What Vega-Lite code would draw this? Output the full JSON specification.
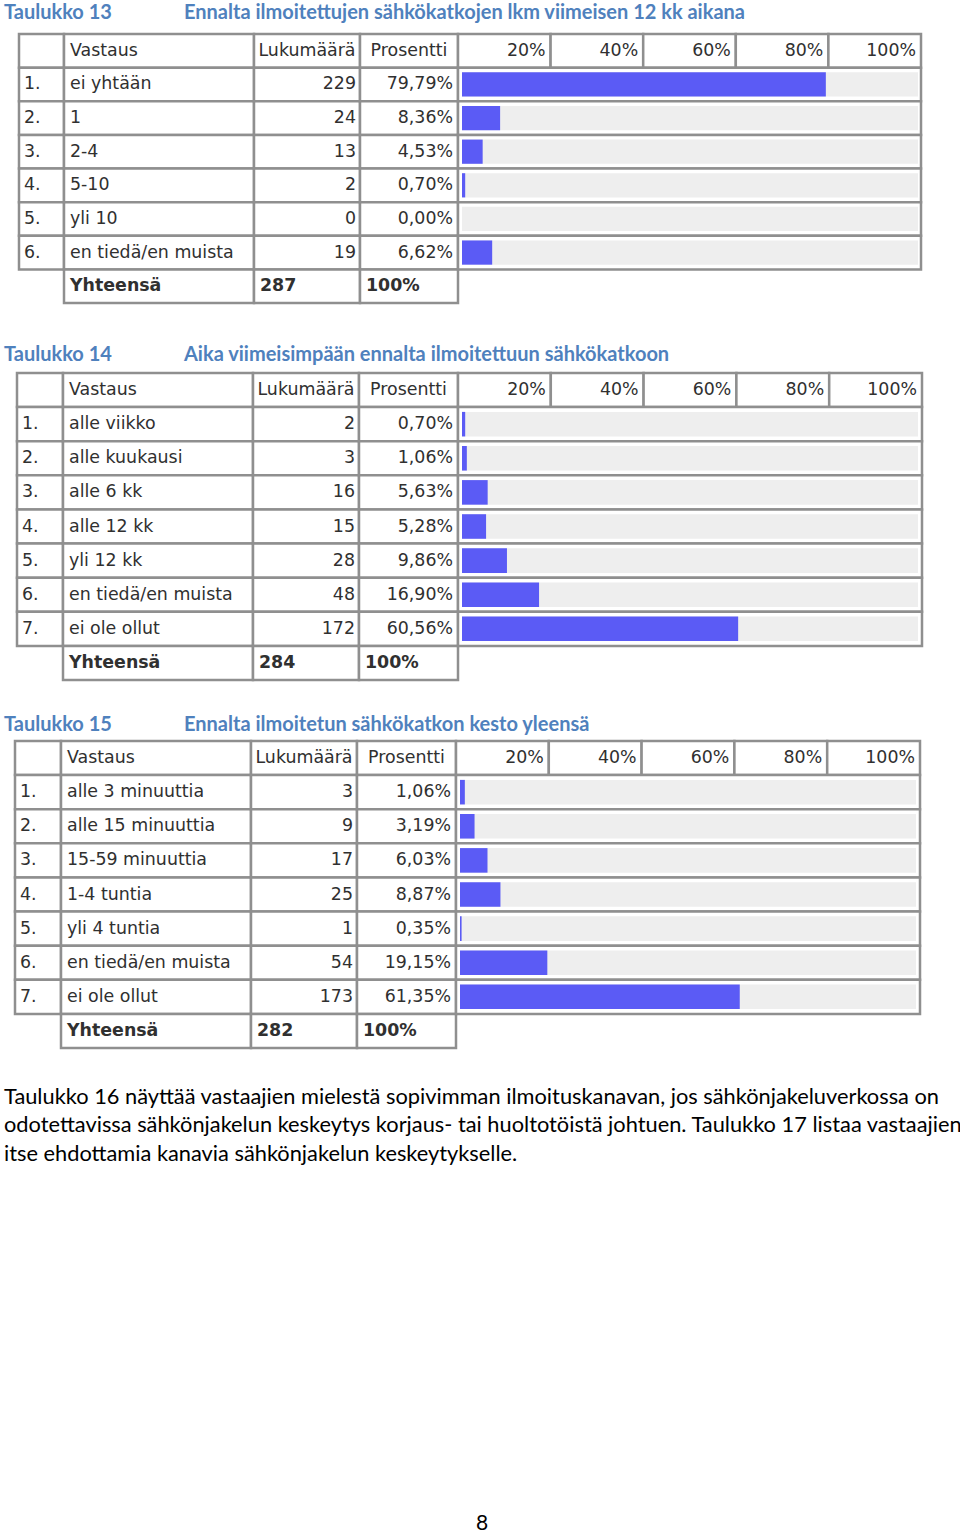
{
  "$schema": "https://vega.github.io/schema/vega-lite/v6.json",
  "padding": 0,
  "background": "white",
  "config": {
    "view": {"stroke": null},
    "text": {"font": "DejaVu Sans", "fontSize": 17.4, "fill": "#303030", "baseline": "middle"},
    "locale": {"number": {"decimal": ",", "thousands": "\u00a0", "grouping": [3], "currency": ["", "\u00a0€"]}}
  },
  "datasets": {
    "ticks": [
      {"row": "h", "lo": 0, "hi": 0.2},
      {"row": "h", "lo": 0.2, "hi": 0.4},
      {"row": "h", "lo": 0.4, "hi": 0.6},
      {"row": "h", "lo": 0.6, "hi": 0.8},
      {"row": "h", "lo": 0.8, "hi": 1}
    ],
    "t13": [
      {"row": "h", "c0": "", "c1": "Vastaus", "c2": "Lukumäärä", "c3": "Prosentti"},
      {"row": "1", "c0": "1.", "c1": "ei yhtään", "n": 229, "p": 0.7979},
      {"row": "2", "c0": "2.", "c1": "1", "n": 24, "p": 0.0836},
      {"row": "3", "c0": "3.", "c1": "2-4", "n": 13, "p": 0.0453},
      {"row": "4", "c0": "4.", "c1": "5-10", "n": 2, "p": 0.007},
      {"row": "5", "c0": "5.", "c1": "yli 10", "n": 0, "p": 0},
      {"row": "6", "c0": "6.", "c1": "en tiedä/en muista", "n": 19, "p": 0.0662},
      {"row": "t", "c1": "Yhteensä", "n": 287, "p": 1}
    ],
    "t14": [
      {"row": "h", "c0": "", "c1": "Vastaus", "c2": "Lukumäärä", "c3": "Prosentti"},
      {"row": "1", "c0": "1.", "c1": "alle viikko", "n": 2, "p": 0.007},
      {"row": "2", "c0": "2.", "c1": "alle kuukausi", "n": 3, "p": 0.0106},
      {"row": "3", "c0": "3.", "c1": "alle 6 kk", "n": 16, "p": 0.0563},
      {"row": "4", "c0": "4.", "c1": "alle 12 kk", "n": 15, "p": 0.0528},
      {"row": "5", "c0": "5.", "c1": "yli 12 kk", "n": 28, "p": 0.0986},
      {"row": "6", "c0": "6.", "c1": "en tiedä/en muista", "n": 48, "p": 0.169},
      {"row": "7", "c0": "7.", "c1": "ei ole ollut", "n": 172, "p": 0.6056},
      {"row": "t", "c1": "Yhteensä", "n": 284, "p": 1}
    ],
    "t15": [
      {"row": "h", "c0": "", "c1": "Vastaus", "c2": "Lukumäärä", "c3": "Prosentti"},
      {"row": "1", "c0": "1.", "c1": "alle 3 minuuttia", "n": 3, "p": 0.0106},
      {"row": "2", "c0": "2.", "c1": "alle 15 minuuttia", "n": 9, "p": 0.0319},
      {"row": "3", "c0": "3.", "c1": "15-59 minuuttia", "n": 17, "p": 0.0603},
      {"row": "4", "c0": "4.", "c1": "1-4 tuntia", "n": 25, "p": 0.0887},
      {"row": "5", "c0": "5.", "c1": "yli 4 tuntia", "n": 1, "p": 0.0035},
      {"row": "6", "c0": "6.", "c1": "en tiedä/en muista", "n": 54, "p": 0.1915},
      {"row": "7", "c0": "7.", "c1": "ei ole ollut", "n": 173, "p": 0.6135},
      {"row": "t", "c1": "Yhteensä", "n": 282, "p": 1}
    ]
  },
  "vconcat": [
    {
      "hconcat": [
        {"width": 180, "height": 31.75, "data": {"values": [{"t": "Taulukko 13"}]}, "mark": {"type": "text", "font": "Lato", "fontWeight": "bold", "fontSize": 20, "fill": "#4f81bd", "align": "left", "dx": 4, "dy": -2.9}, "encoding": {"x": {"datum": 0, "type": "quantitative", "scale": {"domain": [0, 1]}, "axis": null}, "text": {"field": "t"}}},
        {"width": 780, "height": 31.75, "data": {"values": [{"t": "Ennalta ilmoitettujen sähkökatkojen lkm viimeisen 12 kk aikana"}]}, "mark": {"type": "text", "font": "Lato", "fontWeight": "bold", "fontSize": 20, "fill": "#4f81bd", "align": "left", "dx": 4, "dy": -2.9}, "encoding": {"x": {"datum": 0, "type": "quantitative", "scale": {"domain": [0, 1]}, "axis": null}, "text": {"field": "t"}}}
      ],
      "spacing": 0, "bounds": "flush"
    },
    {
      "hconcat": [
        {"width": 19, "height": 269, "data": {"values": [{"a": ""}]}, "mark": "text", "encoding": {"text": {"field": "a"}}},
        {
          "width": 45, "height": 269, "data": {"name": "t13"},
          "encoding": {"y": {"field": "row", "type": "nominal", "scale": {"domain": ["h", "1", "2", "3", "4", "5", "6", "t"], "paddingInner": 0, "paddingOuter": 0}, "axis": null}},
          "layer": [
            {"transform": [{"filter": "datum.row != 't'"}], "mark": {"type": "rect", "fill": "#ffffff", "stroke": "#8f8f8f", "strokeWidth": 2.5}},
            {"transform": [{"filter": "datum.row != 't'"}], "mark": {"type": "text", "align": "left", "dx": 5}, "encoding": {"x": {"datum": 0, "type": "quantitative", "scale": {"domain": [0, 1]}, "axis": null}, "text": {"field": "c0"}}}
          ]
        },
        {
          "width": 190, "height": 269, "data": {"name": "t13"},
          "encoding": {"y": {"field": "row", "type": "nominal", "scale": {"domain": ["h", "1", "2", "3", "4", "5", "6", "t"], "paddingInner": 0, "paddingOuter": 0}, "axis": null}},
          "layer": [
            {"mark": {"type": "rect", "fill": "#ffffff", "stroke": "#8f8f8f", "strokeWidth": 2.5}},
            {"transform": [{"filter": "datum.row != 't'"}], "mark": {"type": "text", "align": "left", "dx": 6}, "encoding": {"x": {"datum": 0, "type": "quantitative", "scale": {"domain": [0, 1]}, "axis": null}, "text": {"field": "c1"}}},
            {"transform": [{"filter": "datum.row == 't'"}], "mark": {"type": "text", "align": "left", "dx": 6, "fontWeight": "bold"}, "encoding": {"x": {"datum": 0, "type": "quantitative", "scale": {"domain": [0, 1]}, "axis": null}, "text": {"field": "c1"}}}
          ]
        },
        {
          "width": 106, "height": 269, "data": {"name": "t13"},
          "encoding": {"y": {"field": "row", "type": "nominal", "scale": {"domain": ["h", "1", "2", "3", "4", "5", "6", "t"], "paddingInner": 0, "paddingOuter": 0}, "axis": null}},
          "layer": [
            {"mark": {"type": "rect", "fill": "#ffffff", "stroke": "#8f8f8f", "strokeWidth": 2.5}},
            {"transform": [{"filter": "datum.row == 'h'"}], "mark": {"type": "text", "align": "center"}, "encoding": {"x": {"datum": 0.5, "type": "quantitative", "scale": {"domain": [0, 1]}, "axis": null}, "text": {"field": "c2"}}},
            {"transform": [{"filter": "datum.row != 'h' && datum.row != 't'"}], "mark": {"type": "text", "align": "right", "dx": -4}, "encoding": {"x": {"datum": 1, "type": "quantitative", "scale": {"domain": [0, 1]}, "axis": null}, "text": {"field": "n", "type": "quantitative", "format": "d"}}},
            {"transform": [{"filter": "datum.row == 't'"}], "mark": {"type": "text", "align": "left", "dx": 6, "fontWeight": "bold"}, "encoding": {"x": {"datum": 0, "type": "quantitative", "scale": {"domain": [0, 1]}, "axis": null}, "text": {"field": "n", "type": "quantitative", "format": "d"}}}
          ]
        },
        {
          "width": 98, "height": 269, "data": {"name": "t13"},
          "encoding": {"y": {"field": "row", "type": "nominal", "scale": {"domain": ["h", "1", "2", "3", "4", "5", "6", "t"], "paddingInner": 0, "paddingOuter": 0}, "axis": null}},
          "layer": [
            {"mark": {"type": "rect", "fill": "#ffffff", "stroke": "#8f8f8f", "strokeWidth": 2.5}},
            {"transform": [{"filter": "datum.row == 'h'"}], "mark": {"type": "text", "align": "center"}, "encoding": {"x": {"datum": 0.5, "type": "quantitative", "scale": {"domain": [0, 1]}, "axis": null}, "text": {"field": "c3"}}},
            {"transform": [{"filter": "datum.row != 'h' && datum.row != 't'"}], "mark": {"type": "text", "align": "right", "dx": -5}, "encoding": {"x": {"datum": 1, "type": "quantitative", "scale": {"domain": [0, 1]}, "axis": null}, "text": {"field": "p", "type": "quantitative", "format": ".2%"}}},
            {"transform": [{"filter": "datum.row == 't'"}], "mark": {"type": "text", "align": "left", "dx": 6, "fontWeight": "bold"}, "encoding": {"x": {"datum": 0, "type": "quantitative", "scale": {"domain": [0, 1]}, "axis": null}, "text": {"field": "p", "type": "quantitative", "format": ".0%"}}}
          ]
        },
        {
          "width": 463, "height": 269,
          "encoding": {"y": {"field": "row", "type": "nominal", "scale": {"domain": ["h", "1", "2", "3", "4", "5", "6", "t"], "paddingInner": 0, "paddingOuter": 0}, "axis": null}},
          "layer": [
            {"data": {"name": "ticks"}, "mark": {"type": "rect", "fill": "#ffffff", "stroke": "#8f8f8f", "strokeWidth": 2.5}, "encoding": {"x": {"field": "lo", "type": "quantitative", "scale": {"domain": [0, 1]}, "axis": null}, "x2": {"field": "hi"}}},
            {"data": {"name": "ticks"}, "mark": {"type": "text", "align": "right", "dx": -5}, "encoding": {"x": {"field": "hi", "type": "quantitative", "scale": {"domain": [0, 1]}, "axis": null}, "text": {"field": "hi", "type": "quantitative", "format": ".0%"}}},
            {"data": {"name": "t13"}, "transform": [{"filter": "datum.row != 'h' && datum.row != 't'"}], "mark": {"type": "rect", "fill": "#ffffff", "stroke": "#8f8f8f", "strokeWidth": 2.5}},
            {"data": {"name": "t13"}, "transform": [{"filter": "datum.row != 'h' && datum.row != 't'"}], "mark": {"type": "bar", "fill": "#eeeeee", "height": {"band": 0.72}}, "encoding": {"x": {"datum": 0, "type": "quantitative", "scale": {"domain": [0, 1], "range": [4, 460]}, "axis": null}, "x2": {"datum": 1}}},
            {"data": {"name": "t13"}, "transform": [{"filter": "datum.row != 'h' && datum.row != 't'"}], "mark": {"type": "bar", "fill": "#5b5bf5", "height": {"band": 0.72}}, "encoding": {"x": {"field": "p", "type": "quantitative", "scale": {"domain": [0, 1], "range": [4, 460]}, "axis": null}}}
          ],
          "resolve": {"scale": {"x": "independent"}}
        }
      ],
      "spacing": 0, "bounds": "flush"
    },
    {
      "hconcat": [
        {"width": 180, "height": 65.5, "data": {"values": [{"t": "Taulukko 14"}]}, "mark": {"type": "text", "font": "Lato", "fontWeight": "bold", "fontSize": 20, "fill": "#4f81bd", "align": "left", "dx": 4, "dy": 17}, "encoding": {"x": {"datum": 0, "type": "quantitative", "scale": {"domain": [0, 1]}, "axis": null}, "text": {"field": "t"}}},
        {"width": 780, "height": 65.5, "data": {"values": [{"t": "Aika viimeisimpään ennalta ilmoitettuun sähkökatkoon"}]}, "mark": {"type": "text", "font": "Lato", "fontWeight": "bold", "fontSize": 20, "fill": "#4f81bd", "align": "left", "dx": 4, "dy": 17}, "encoding": {"x": {"datum": 0, "type": "quantitative", "scale": {"domain": [0, 1]}, "axis": null}, "text": {"field": "t"}}}
      ],
      "spacing": 0, "bounds": "flush"
    },
    {
      "hconcat": [
        {"width": 17, "height": 307, "data": {"values": [{"a": ""}]}, "mark": "text", "encoding": {"text": {"field": "a"}}},
        {
          "width": 46, "height": 307, "data": {"name": "t14"},
          "encoding": {"y": {"field": "row", "type": "nominal", "scale": {"domain": ["h", "1", "2", "3", "4", "5", "6", "7", "t"], "paddingInner": 0, "paddingOuter": 0}, "axis": null}},
          "layer": [
            {"transform": [{"filter": "datum.row != 't'"}], "mark": {"type": "rect", "fill": "#ffffff", "stroke": "#8f8f8f", "strokeWidth": 2.5}},
            {"transform": [{"filter": "datum.row != 't'"}], "mark": {"type": "text", "align": "left", "dx": 5}, "encoding": {"x": {"datum": 0, "type": "quantitative", "scale": {"domain": [0, 1]}, "axis": null}, "text": {"field": "c0"}}}
          ]
        },
        {
          "width": 190, "height": 307, "data": {"name": "t14"},
          "encoding": {"y": {"field": "row", "type": "nominal", "scale": {"domain": ["h", "1", "2", "3", "4", "5", "6", "7", "t"], "paddingInner": 0, "paddingOuter": 0}, "axis": null}},
          "layer": [
            {"mark": {"type": "rect", "fill": "#ffffff", "stroke": "#8f8f8f", "strokeWidth": 2.5}},
            {"transform": [{"filter": "datum.row != 't'"}], "mark": {"type": "text", "align": "left", "dx": 6}, "encoding": {"x": {"datum": 0, "type": "quantitative", "scale": {"domain": [0, 1]}, "axis": null}, "text": {"field": "c1"}}},
            {"transform": [{"filter": "datum.row == 't'"}], "mark": {"type": "text", "align": "left", "dx": 6, "fontWeight": "bold"}, "encoding": {"x": {"datum": 0, "type": "quantitative", "scale": {"domain": [0, 1]}, "axis": null}, "text": {"field": "c1"}}}
          ]
        },
        {
          "width": 106, "height": 307, "data": {"name": "t14"},
          "encoding": {"y": {"field": "row", "type": "nominal", "scale": {"domain": ["h", "1", "2", "3", "4", "5", "6", "7", "t"], "paddingInner": 0, "paddingOuter": 0}, "axis": null}},
          "layer": [
            {"mark": {"type": "rect", "fill": "#ffffff", "stroke": "#8f8f8f", "strokeWidth": 2.5}},
            {"transform": [{"filter": "datum.row == 'h'"}], "mark": {"type": "text", "align": "center"}, "encoding": {"x": {"datum": 0.5, "type": "quantitative", "scale": {"domain": [0, 1]}, "axis": null}, "text": {"field": "c2"}}},
            {"transform": [{"filter": "datum.row != 'h' && datum.row != 't'"}], "mark": {"type": "text", "align": "right", "dx": -4}, "encoding": {"x": {"datum": 1, "type": "quantitative", "scale": {"domain": [0, 1]}, "axis": null}, "text": {"field": "n", "type": "quantitative", "format": "d"}}},
            {"transform": [{"filter": "datum.row == 't'"}], "mark": {"type": "text", "align": "left", "dx": 6, "fontWeight": "bold"}, "encoding": {"x": {"datum": 0, "type": "quantitative", "scale": {"domain": [0, 1]}, "axis": null}, "text": {"field": "n", "type": "quantitative", "format": "d"}}}
          ]
        },
        {
          "width": 99, "height": 307, "data": {"name": "t14"},
          "encoding": {"y": {"field": "row", "type": "nominal", "scale": {"domain": ["h", "1", "2", "3", "4", "5", "6", "7", "t"], "paddingInner": 0, "paddingOuter": 0}, "axis": null}},
          "layer": [
            {"mark": {"type": "rect", "fill": "#ffffff", "stroke": "#8f8f8f", "strokeWidth": 2.5}},
            {"transform": [{"filter": "datum.row == 'h'"}], "mark": {"type": "text", "align": "center"}, "encoding": {"x": {"datum": 0.5, "type": "quantitative", "scale": {"domain": [0, 1]}, "axis": null}, "text": {"field": "c3"}}},
            {"transform": [{"filter": "datum.row != 'h' && datum.row != 't'"}], "mark": {"type": "text", "align": "right", "dx": -5}, "encoding": {"x": {"datum": 1, "type": "quantitative", "scale": {"domain": [0, 1]}, "axis": null}, "text": {"field": "p", "type": "quantitative", "format": ".2%"}}},
            {"transform": [{"filter": "datum.row == 't'"}], "mark": {"type": "text", "align": "left", "dx": 6, "fontWeight": "bold"}, "encoding": {"x": {"datum": 0, "type": "quantitative", "scale": {"domain": [0, 1]}, "axis": null}, "text": {"field": "p", "type": "quantitative", "format": ".0%"}}}
          ]
        },
        {
          "width": 464, "height": 307,
          "encoding": {"y": {"field": "row", "type": "nominal", "scale": {"domain": ["h", "1", "2", "3", "4", "5", "6", "7", "t"], "paddingInner": 0, "paddingOuter": 0}, "axis": null}},
          "layer": [
            {"data": {"name": "ticks"}, "mark": {"type": "rect", "fill": "#ffffff", "stroke": "#8f8f8f", "strokeWidth": 2.5}, "encoding": {"x": {"field": "lo", "type": "quantitative", "scale": {"domain": [0, 1]}, "axis": null}, "x2": {"field": "hi"}}},
            {"data": {"name": "ticks"}, "mark": {"type": "text", "align": "right", "dx": -5}, "encoding": {"x": {"field": "hi", "type": "quantitative", "scale": {"domain": [0, 1]}, "axis": null}, "text": {"field": "hi", "type": "quantitative", "format": ".0%"}}},
            {"data": {"name": "t14"}, "transform": [{"filter": "datum.row != 'h' && datum.row != 't'"}], "mark": {"type": "rect", "fill": "#ffffff", "stroke": "#8f8f8f", "strokeWidth": 2.5}},
            {"data": {"name": "t14"}, "transform": [{"filter": "datum.row != 'h' && datum.row != 't'"}], "mark": {"type": "bar", "fill": "#eeeeee", "height": {"band": 0.72}}, "encoding": {"x": {"datum": 0, "type": "quantitative", "scale": {"domain": [0, 1], "range": [4, 460]}, "axis": null}, "x2": {"datum": 1}}},
            {"data": {"name": "t14"}, "transform": [{"filter": "datum.row != 'h' && datum.row != 't'"}], "mark": {"type": "bar", "fill": "#5b5bf5", "height": {"band": 0.72}}, "encoding": {"x": {"field": "p", "type": "quantitative", "scale": {"domain": [0, 1], "range": [4, 460]}, "axis": null}}}
          ],
          "resolve": {"scale": {"x": "independent"}}
        }
      ],
      "spacing": 0, "bounds": "flush"
    },
    {
      "hconcat": [
        {"width": 180, "height": 56.5, "data": {"values": [{"t": "Taulukko 15"}]}, "mark": {"type": "text", "font": "Lato", "fontWeight": "bold", "fontSize": 20, "fill": "#4f81bd", "align": "left", "dx": 4, "dy": 14.5}, "encoding": {"x": {"datum": 0, "type": "quantitative", "scale": {"domain": [0, 1]}, "axis": null}, "text": {"field": "t"}}},
        {"width": 780, "height": 56.5, "data": {"values": [{"t": "Ennalta ilmoitetun sähkökatkon kesto yleensä"}]}, "mark": {"type": "text", "font": "Lato", "fontWeight": "bold", "fontSize": 20, "fill": "#4f81bd", "align": "left", "dx": 4, "dy": 14.5}, "encoding": {"x": {"datum": 0, "type": "quantitative", "scale": {"domain": [0, 1]}, "axis": null}, "text": {"field": "t"}}}
      ],
      "spacing": 0, "bounds": "flush"
    },
    {
      "hconcat": [
        {"width": 15, "height": 307, "data": {"values": [{"a": ""}]}, "mark": "text", "encoding": {"text": {"field": "a"}}},
        {
          "width": 46, "height": 307, "data": {"name": "t15"},
          "encoding": {"y": {"field": "row", "type": "nominal", "scale": {"domain": ["h", "1", "2", "3", "4", "5", "6", "7", "t"], "paddingInner": 0, "paddingOuter": 0}, "axis": null}},
          "layer": [
            {"transform": [{"filter": "datum.row != 't'"}], "mark": {"type": "rect", "fill": "#ffffff", "stroke": "#8f8f8f", "strokeWidth": 2.5}},
            {"transform": [{"filter": "datum.row != 't'"}], "mark": {"type": "text", "align": "left", "dx": 5}, "encoding": {"x": {"datum": 0, "type": "quantitative", "scale": {"domain": [0, 1]}, "axis": null}, "text": {"field": "c0"}}}
          ]
        },
        {
          "width": 190, "height": 307, "data": {"name": "t15"},
          "encoding": {"y": {"field": "row", "type": "nominal", "scale": {"domain": ["h", "1", "2", "3", "4", "5", "6", "7", "t"], "paddingInner": 0, "paddingOuter": 0}, "axis": null}},
          "layer": [
            {"mark": {"type": "rect", "fill": "#ffffff", "stroke": "#8f8f8f", "strokeWidth": 2.5}},
            {"transform": [{"filter": "datum.row != 't'"}], "mark": {"type": "text", "align": "left", "dx": 6}, "encoding": {"x": {"datum": 0, "type": "quantitative", "scale": {"domain": [0, 1]}, "axis": null}, "text": {"field": "c1"}}},
            {"transform": [{"filter": "datum.row == 't'"}], "mark": {"type": "text", "align": "left", "dx": 6, "fontWeight": "bold"}, "encoding": {"x": {"datum": 0, "type": "quantitative", "scale": {"domain": [0, 1]}, "axis": null}, "text": {"field": "c1"}}}
          ]
        },
        {
          "width": 106, "height": 307, "data": {"name": "t15"},
          "encoding": {"y": {"field": "row", "type": "nominal", "scale": {"domain": ["h", "1", "2", "3", "4", "5", "6", "7", "t"], "paddingInner": 0, "paddingOuter": 0}, "axis": null}},
          "layer": [
            {"mark": {"type": "rect", "fill": "#ffffff", "stroke": "#8f8f8f", "strokeWidth": 2.5}},
            {"transform": [{"filter": "datum.row == 'h'"}], "mark": {"type": "text", "align": "center"}, "encoding": {"x": {"datum": 0.5, "type": "quantitative", "scale": {"domain": [0, 1]}, "axis": null}, "text": {"field": "c2"}}},
            {"transform": [{"filter": "datum.row != 'h' && datum.row != 't'"}], "mark": {"type": "text", "align": "right", "dx": -4}, "encoding": {"x": {"datum": 1, "type": "quantitative", "scale": {"domain": [0, 1]}, "axis": null}, "text": {"field": "n", "type": "quantitative", "format": "d"}}},
            {"transform": [{"filter": "datum.row == 't'"}], "mark": {"type": "text", "align": "left", "dx": 6, "fontWeight": "bold"}, "encoding": {"x": {"datum": 0, "type": "quantitative", "scale": {"domain": [0, 1]}, "axis": null}, "text": {"field": "n", "type": "quantitative", "format": "d"}}}
          ]
        },
        {
          "width": 99, "height": 307, "data": {"name": "t15"},
          "encoding": {"y": {"field": "row", "type": "nominal", "scale": {"domain": ["h", "1", "2", "3", "4", "5", "6", "7", "t"], "paddingInner": 0, "paddingOuter": 0}, "axis": null}},
          "layer": [
            {"mark": {"type": "rect", "fill": "#ffffff", "stroke": "#8f8f8f", "strokeWidth": 2.5}},
            {"transform": [{"filter": "datum.row == 'h'"}], "mark": {"type": "text", "align": "center"}, "encoding": {"x": {"datum": 0.5, "type": "quantitative", "scale": {"domain": [0, 1]}, "axis": null}, "text": {"field": "c3"}}},
            {"transform": [{"filter": "datum.row != 'h' && datum.row != 't'"}], "mark": {"type": "text", "align": "right", "dx": -5}, "encoding": {"x": {"datum": 1, "type": "quantitative", "scale": {"domain": [0, 1]}, "axis": null}, "text": {"field": "p", "type": "quantitative", "format": ".2%"}}},
            {"transform": [{"filter": "datum.row == 't'"}], "mark": {"type": "text", "align": "left", "dx": 6, "fontWeight": "bold"}, "encoding": {"x": {"datum": 0, "type": "quantitative", "scale": {"domain": [0, 1]}, "axis": null}, "text": {"field": "p", "type": "quantitative", "format": ".0%"}}}
          ]
        },
        {
          "width": 464, "height": 307,
          "encoding": {"y": {"field": "row", "type": "nominal", "scale": {"domain": ["h", "1", "2", "3", "4", "5", "6", "7", "t"], "paddingInner": 0, "paddingOuter": 0}, "axis": null}},
          "layer": [
            {"data": {"name": "ticks"}, "mark": {"type": "rect", "fill": "#ffffff", "stroke": "#8f8f8f", "strokeWidth": 2.5}, "encoding": {"x": {"field": "lo", "type": "quantitative", "scale": {"domain": [0, 1]}, "axis": null}, "x2": {"field": "hi"}}},
            {"data": {"name": "ticks"}, "mark": {"type": "text", "align": "right", "dx": -5}, "encoding": {"x": {"field": "hi", "type": "quantitative", "scale": {"domain": [0, 1]}, "axis": null}, "text": {"field": "hi", "type": "quantitative", "format": ".0%"}}},
            {"data": {"name": "t15"}, "transform": [{"filter": "datum.row != 'h' && datum.row != 't'"}], "mark": {"type": "rect", "fill": "#ffffff", "stroke": "#8f8f8f", "strokeWidth": 2.5}},
            {"data": {"name": "t15"}, "transform": [{"filter": "datum.row != 'h' && datum.row != 't'"}], "mark": {"type": "bar", "fill": "#eeeeee", "height": {"band": 0.72}}, "encoding": {"x": {"datum": 0, "type": "quantitative", "scale": {"domain": [0, 1], "range": [4, 460]}, "axis": null}, "x2": {"datum": 1}}},
            {"data": {"name": "t15"}, "transform": [{"filter": "datum.row != 'h' && datum.row != 't'"}], "mark": {"type": "bar", "fill": "#5b5bf5", "height": {"band": 0.72}}, "encoding": {"x": {"field": "p", "type": "quantitative", "scale": {"domain": [0, 1], "range": [4, 460]}, "axis": null}}}
          ],
          "resolve": {"scale": {"x": "independent"}}
        }
      ],
      "spacing": 0, "bounds": "flush"
    },
    {
      "width": 960, "height": 150.5,
      "data": {"values": [
        {"line": 1, "text": "Taulukko 16 näyttää vastaajien mielestä sopivimman ilmoituskanavan, jos sähkönjakeluverkossa on"},
        {"line": 2, "text": "odotettavissa sähkönjakelun keskeytys korjaus- tai huoltotöistä johtuen. Taulukko 17 listaa vastaajien"},
        {"line": 3, "text": "itse ehdottamia kanavia sähkönjakelun keskeytykselle."}
      ]},
      "mark": {"type": "text", "font": "Lato", "fontSize": 21.8, "fill": "#000000", "align": "left", "dx": 4},
      "encoding": {
        "x": {"datum": 0, "type": "quantitative", "scale": {"domain": [0, 1]}, "axis": null},
        "y": {"field": "line", "type": "quantitative", "scale": {"domain": [-0.64, 4.64], "reverse": true, "nice": false, "zero": false}, "axis": null},
        "text": {"field": "text"}
      }
    },
    {
      "width": 960, "height": 330,
      "data": {"values": [{"page": "8"}]},
      "mark": {"type": "text", "font": "Lato", "fontSize": 21, "fill": "#000000", "align": "center", "baseline": "alphabetic", "dx": 2, "dy": -1},
      "encoding": {
        "x": {"datum": 0.5, "type": "quantitative", "scale": {"domain": [0, 1]}, "axis": null},
        "y": {"datum": 0, "type": "quantitative", "scale": {"domain": [0, 1]}, "axis": null},
        "text": {"field": "page"}
      }
    }
  ],
  "spacing": 0
}
